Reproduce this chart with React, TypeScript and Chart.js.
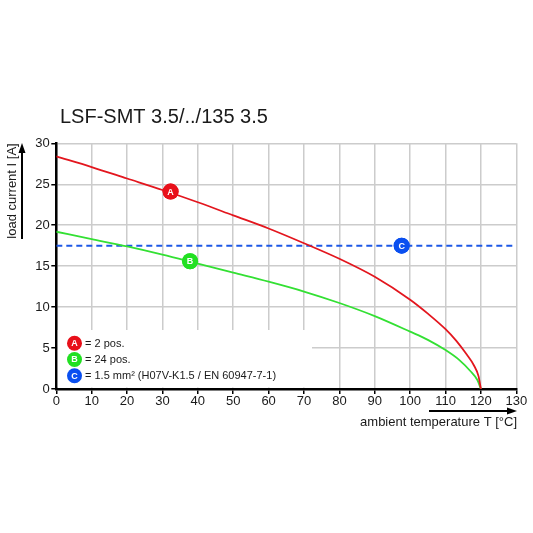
import React, { useEffect, useRef } from "react";
import { Chart, registerables } from "chart.js";

Chart.register(...registerables);

// ---- data ----
const temperaturesA = [0, 10, 20, 30, 40, 50, 60, 70, 80, 90, 100, 105, 110, 113, 116, 118, 119.3, 120];
const currentA = [28.4, 27.1, 25.7, 24.3, 22.8, 21.2, 19.6, 17.8, 15.9, 13.7, 10.9, 9.2, 7.3, 5.9, 4.2, 2.9, 1.6, 0];
const temperaturesB = [0, 10, 20, 30, 40, 50, 60, 70, 80, 90, 100, 105, 110, 114, 117, 119, 120];
const currentB = [19.2, 18.3, 17.4, 16.4, 15.3, 14.2, 13.1, 11.9, 10.5, 8.9, 7.0, 6.0, 4.75, 3.5, 2.2, 1.1, 0];
const wireLimitC = 17.5;
const wireRangeT = [0, 130];
const markerLabels = ["A", "B", "C"];
const markerT = [32.3, 37.8, 97.6];
const markerI = [24.1, 15.6, 17.5];
const legendTexts = ["= 2 pos.", "= 24 pos.", "= 1.5 mm² (H07V-K1.5 / EN 60947-7-1)"];
const xTickValues = [0, 10, 20, 30, 40, 50, 60, 70, 80, 90, 100, 110, 120, 130];
const yTickValues = [0, 5, 10, 15, 20, 25, 30];
const titleText = "LSF-SMT 3.5/../135 3.5";
const yAxisTitle = "load current I [A]";
const xAxisTitle = "ambient temperature T [°C]";

const RED = "#e3161e";
const GREEN = "#33e033";
const BLUE = "#1d58e6";
const MARKER_COLORS = ["#e8101a", "#22e022", "#0a4ff0"];
const FONT = '"Liberation Sans", Arial, sans-serif';

function drawCircleLabel(ctx: CanvasRenderingContext2D, x: number, y: number, r: number, color: string, letter: string) {
  ctx.save();
  ctx.beginPath();
  ctx.arc(x, y, r, 0, Math.PI * 2);
  ctx.fillStyle = color;
  ctx.fill();
  ctx.fillStyle = "#ffffff";
  ctx.font = `bold ${Math.round(r * 1.15)}px ${FONT}`;
  ctx.textAlign = "center";
  ctx.textBaseline = "middle";
  ctx.fillText(letter, x, y + 0.5);
  ctx.restore();
}

const decorPlugin = {
  id: "decor",
  beforeDatasetsDraw(chart: any) {
    const ctx = chart.ctx as CanvasRenderingContext2D;
    const area = chart.chartArea;
    ctx.save();
    ctx.fillStyle = "#ffffff";
    ctx.fillRect(area.left + 1.5, 330, 312 - area.left - 1.5, area.bottom - 1.5 - 330);
    ctx.restore();
  },
  afterDatasetsDraw(chart: any) {
    const ctx = chart.ctx as CanvasRenderingContext2D;
    const meta = chart.getDatasetMeta(3);
    meta.data.forEach((pt: any, i: number) => {
      drawCircleLabel(ctx, pt.x, pt.y, 8, MARKER_COLORS[i], markerLabels[i]);
    });
  },
  afterDraw(chart: any) {
    const ctx = chart.ctx as CanvasRenderingContext2D;
    ctx.save();
    ctx.fillStyle = "#1a1a1a";
    ctx.strokeStyle = "#000";
    ctx.font = `20px ${FONT}`;
    ctx.textAlign = "left";
    ctx.textBaseline = "alphabetic";
    ctx.fillText(titleText, 60, 123);

    ctx.save();
    ctx.translate(15.5, 191);
    ctx.rotate(-Math.PI / 2);
    ctx.font = `13px ${FONT}`;
    ctx.textAlign = "center";
    ctx.fillText(yAxisTitle, 0, 0);
    ctx.restore();

    ctx.lineWidth = 2;
    ctx.beginPath();
    ctx.moveTo(22, 239);
    ctx.lineTo(22, 151);
    ctx.stroke();
    ctx.beginPath();
    ctx.moveTo(22, 143);
    ctx.lineTo(18.5, 153);
    ctx.lineTo(25.5, 153);
    ctx.closePath();
    ctx.fillStyle = "#000";
    ctx.fill();

    ctx.beginPath();
    ctx.moveTo(429, 411);
    ctx.lineTo(509, 411);
    ctx.stroke();
    ctx.beginPath();
    ctx.moveTo(517, 411);
    ctx.lineTo(507, 407.5);
    ctx.lineTo(507, 414.5);
    ctx.closePath();
    ctx.fill();

    ctx.fillStyle = "#1a1a1a";
    ctx.font = `13px ${FONT}`;
    ctx.textAlign = "right";
    ctx.fillText(xAxisTitle, 517, 426);

    const ly = [343.3, 359.5, 375.7];
    legendTexts.forEach((t, i) => {
      drawCircleLabel(ctx, 74.5, ly[i], 7.5, MARKER_COLORS[i], markerLabels[i]);
      ctx.fillStyle = "#1a1a1a";
      ctx.font = `11px ${FONT}`;
      ctx.textAlign = "left";
      ctx.textBaseline = "middle";
      ctx.fillText(t, 85, ly[i] + 0.5);
    });
    ctx.restore();
  },
};

export default function App() {
  const canvasRef = useRef<HTMLCanvasElement | null>(null);

  useEffect(() => {
    const canvas = canvasRef.current;
    if (!canvas) return;
    const chart = new Chart(canvas, {
      type: "line",
      data: {
        datasets: [
          {
            label: "A",
            data: temperaturesA.map((t, i) => ({ x: t, y: currentA[i] })),
            borderColor: RED,
            borderWidth: 1.8,
            pointRadius: 0,
            cubicInterpolationMode: "monotone",
            fill: false,
          },
          {
            label: "B",
            data: temperaturesB.map((t, i) => ({ x: t, y: currentB[i] })),
            borderColor: GREEN,
            borderWidth: 1.8,
            pointRadius: 0,
            cubicInterpolationMode: "monotone",
            fill: false,
          },
          {
            label: "C",
            data: wireRangeT.map((t) => ({ x: t, y: wireLimitC })),
            borderColor: BLUE,
            borderWidth: 2,
            borderDash: [6, 4],
            pointRadius: 0,
            fill: false,
          },
          {
            label: "markers",
            data: markerT.map((t, i) => ({ x: t, y: markerI[i] })),
            showLine: false,
            pointRadius: 8,
            pointBorderWidth: 0,
            pointBackgroundColor: MARKER_COLORS,
            pointBorderColor: MARKER_COLORS,
          },
        ],
      },
      options: {
        animation: false,
        responsive: false,
        layout: { padding: { left: 0, top: 143.3, right: 16.7, bottom: 0 } },
        plugins: {
          legend: { display: false },
          tooltip: { enabled: false },
          title: { display: false },
        },
        scales: {
          x: {
            type: "linear",
            min: 0,
            max: 130,
            afterBuildTicks: (scale: any) => {
              scale.ticks = xTickValues.map((v) => ({ value: v }));
            },
            afterFit: (scale: any) => {
              scale.height = 144;
            },
            ticks: {
              font: { family: FONT, size: 13 },
              color: "#1a1a1a",
              padding: 0,
              maxRotation: 0,
              autoSkip: false,
            },
            grid: {
              color: "#cccccc",
              lineWidth: 1.5,
              tickLength: 5,
              tickColor: "#000",
              tickWidth: 1.5,
            },
            border: { color: "#000", width: 2.5 },
          },
          y: {
            type: "linear",
            min: 0,
            max: 30,
            afterBuildTicks: (scale: any) => {
              scale.ticks = yTickValues.map((v) => ({ value: v }));
            },
            afterFit: (scale: any) => {
              scale.width = 56.3;
            },
            ticks: {
              font: { family: FONT, size: 13 },
              color: "#1a1a1a",
              padding: 1.5,
              autoSkip: false,
            },
            grid: {
              color: "#cccccc",
              lineWidth: 1.5,
              tickLength: 5,
              tickColor: "#000",
              tickWidth: 1.5,
            },
            border: { color: "#000", width: 2.5 },
          },
        },
      },
      plugins: [decorPlugin],
    } as any);
    return () => chart.destroy();
  }, []);

  return (
    <div style={{ position: "fixed", left: 0, top: 0, width: 533, height: 533, background: "#fff" }}>
      <canvas ref={canvasRef} width={533} height={533} style={{ display: "block", width: 533, height: 533 }} />
    </div>
  );
}
